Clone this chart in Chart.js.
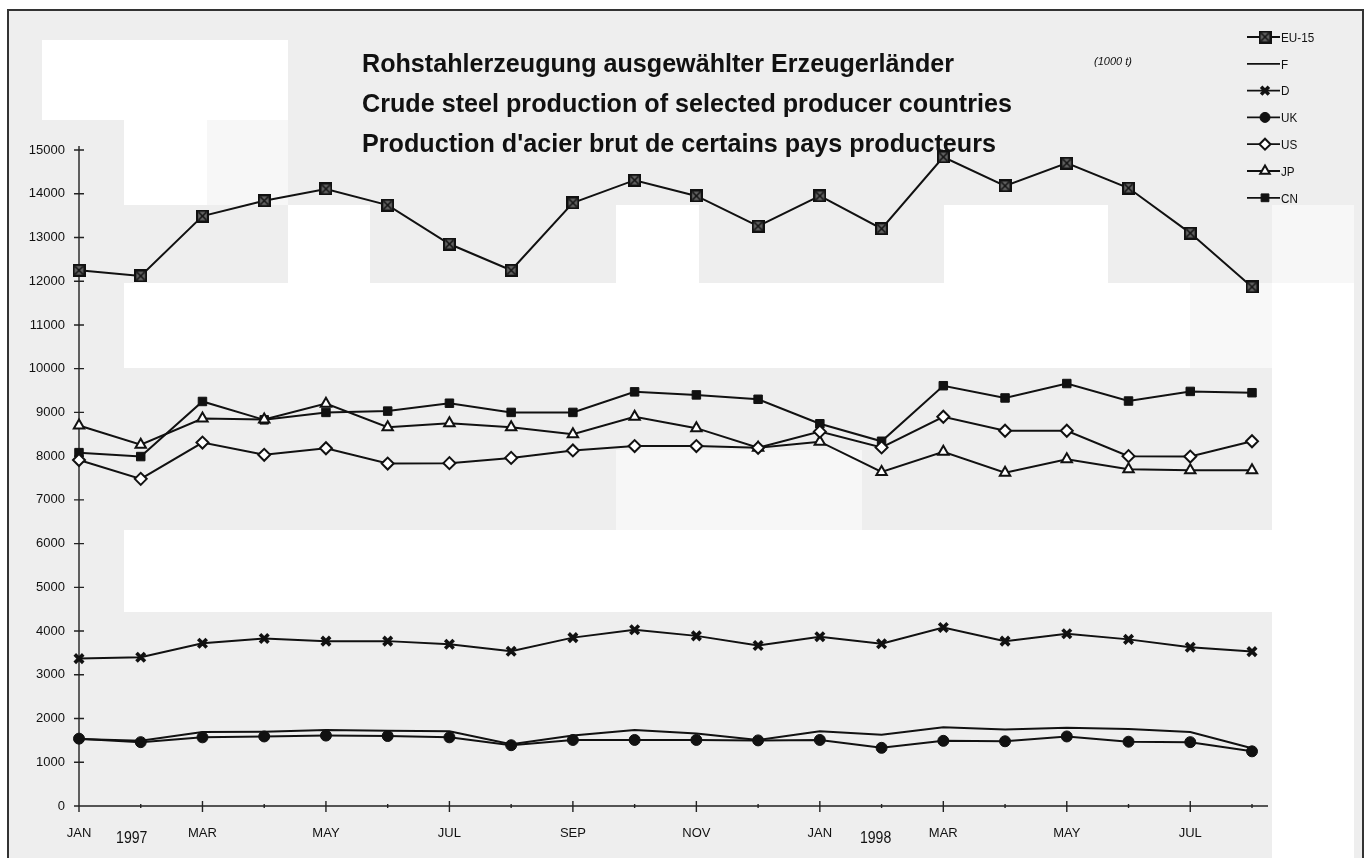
<!DOCTYPE html>
<html>
<head>
<meta charset="utf-8">
<title>Rohstahlerzeugung</title>
<script src="https://cdn.jsdelivr.net/npm/chart.js@4.4.1/dist/chart.umd.min.js"></script>
<style>
  html, body { margin: 0; padding: 0; background: #fff; }
  #wrap { width: 1367px; height: 858px; }
</style>
</head>
<body>
<div id="wrap"><canvas id="myChart" width="1367" height="858"></canvas></div>
<script>
// months Jan 1997 .. Aug 1998
const months = ['JAN','FEB','MAR','APR','MAY','JUN','JUL','AUG','SEP','OCT','NOV','DEC',
                'JAN','FEB','MAR','APR','MAY','JUN','JUL','AUG'];
const tickLabels = ['JAN','','MAR','','MAY','','JUL','','SEP','','NOV','',
                    'JAN','','MAR','','MAY','','JUL',''];
const yearLabels = ['1997', '1998'];
const yTicks = [0, 1000, 2000, 3000, 4000, 5000, 6000, 7000, 8000, 9000, 10000, 11000, 12000, 13000, 14000, 15000];

// 1000 t
const eu15 = [12250, 12120, 13490, 13840, 14110, 13740, 12850, 12250, 13790, 14310, 13950, 13260,
              13950, 13200, 14840, 14180, 14700, 14130, 13100, 11870];
const fr   = [1530, 1490, 1690, 1700, 1740, 1720, 1710, 1410, 1610, 1740, 1660, 1510,
              1710, 1630, 1800, 1750, 1790, 1760, 1690, 1320];
const de   = [3370, 3400, 3720, 3830, 3770, 3770, 3700, 3540, 3850, 4030, 3890, 3670,
              3870, 3710, 4080, 3770, 3940, 3810, 3630, 3530];
const uk   = [1540, 1460, 1570, 1590, 1610, 1600, 1570, 1390, 1510, 1510, 1510, 1500,
              1510, 1330, 1490, 1480, 1590, 1470, 1460, 1250];
const us   = [7910, 7480, 8310, 8030, 8180, 7830, 7840, 7960, 8130, 8230, 8230, 8190,
              8560, 8200, 8900, 8580, 8580, 8000, 7990, 8340];
const jp   = [8700, 8260, 8860, 8840, 9200, 8660, 8750, 8660, 8500, 8900, 8640, 8190,
              8330, 7640, 8100, 7620, 7930, 7700, 7680, 7680];
const cn   = [8080, 7990, 9250, 8830, 9000, 9030, 9210, 9000, 9000, 9470, 9400, 9300,
              8740, 8340, 9610, 9330, 9660, 9260, 9480, 9450];

const titleLines = ['Rohstahlerzeugung ausgewählter Erzeugerländer',
                    'Crude steel production of selected producer countries',
                    "Production d'acier brut de certains pays producteurs"];
const unitLabel = '(1000 t)';

const INK = '#111111';

// square with a cross inside, for EU-15
function makeEuMarker() {
    var c = document.createElement('canvas');
    c.width = 13; c.height = 13;
    var g = c.getContext('2d');
    g.fillStyle = '#666';
    g.fillRect(0, 0, 13, 13);
    g.strokeStyle = INK;
    g.lineWidth = 2.2;
    g.strokeRect(1.1, 1.1, 10.8, 10.8);
    g.lineWidth = 1.6;
    g.beginPath();
    g.moveTo(2.5, 2.5); g.lineTo(10.5, 10.5);
    g.moveTo(10.5, 2.5); g.lineTo(2.5, 10.5);
    g.stroke();
    return c;
}

function series(label, data, style, fill, radius, bw) {
    return {
        label: label,
        data: data,
        borderColor: INK,
        borderWidth: 2,
        tension: 0,
        pointStyle: style,
        pointRadius: radius,
        pointHoverRadius: radius,
        pointBackgroundColor: fill,
        pointBorderColor: INK,
        pointBorderWidth: bw,
        clip: false
    };
}

// background of the scanned page: grey with lighter patches
const bgPlugin = {
    id: 'scanBg',
    beforeDraw(chart) {
        const ctx = chart.ctx;
        ctx.save();
        ctx.fillStyle = '#ffffff';
        ctx.fillRect(0, 0, chart.width, chart.height);
        ctx.fillStyle = '#eeeeee';
        ctx.fillRect(8, 10, 1355, 848);
        const blocks = [
            [42, 40, 246, 80, '#ffffff'],
            [124, 120, 83, 85, '#ffffff'],
            [207, 120, 81, 85, '#f7f7f7'],
            [288, 205, 82, 78, '#ffffff'],
            [616, 205, 83, 78, '#ffffff'],
            [944, 205, 164, 78, '#ffffff'],
            [1272, 205, 82, 78, '#f7f7f7'],
            [124, 283, 1066, 85, '#ffffff'],
            [1190, 283, 82, 85, '#f8f8f8'],
            [1272, 283, 82, 575, '#ffffff'],
            [616, 450, 246, 80, '#f7f7f7'],
            [124, 530, 1148, 82, '#ffffff']
        ];
        blocks.forEach(function (b) {
            ctx.fillStyle = b[4];
            ctx.fillRect(b[0], b[1], b[2], b[3]);
        });
        // frame
        ctx.strokeStyle = '#333';
        ctx.lineWidth = 2;
        ctx.beginPath();
        ctx.moveTo(8, 858); ctx.lineTo(8, 10); ctx.lineTo(1363, 10); ctx.lineTo(1363, 858);
        ctx.stroke();
        ctx.restore();
    }
};

// axis lines and tick marks crossing the axes
const axesPlugin = {
    id: 'oldAxes',
    beforeDatasetsDraw(chart) {
        const ctx = chart.ctx;
        const area = chart.chartArea;
        const x = chart.scales.x, y = chart.scales.y;
        ctx.save();
        ctx.strokeStyle = '#222';
        ctx.lineWidth = 1.4;
        ctx.beginPath();
        ctx.moveTo(area.left, area.top - 4);
        ctx.lineTo(area.left, area.bottom);
        ctx.lineTo(area.right + 16, area.bottom);
        yTicks.forEach(function (v) {
            const py = y.getPixelForValue(v);
            ctx.moveTo(area.left - 5, py);
            ctx.lineTo(area.left + 5, py);
        });
        months.forEach(function (m, i) {
            const px = x.getPixelForValue(i);
            const major = tickLabels[i] !== '';
            ctx.moveTo(px, area.bottom - (major ? 5 : 2));
            ctx.lineTo(px, area.bottom + (major ? 6 : 2));
        });
        ctx.stroke();
        ctx.restore();
    },
    afterDraw(chart) {
        const ctx = chart.ctx;
        const x = chart.scales.x;
        ctx.save();
        ctx.fillStyle = INK;
        ctx.textAlign = 'center';
        ctx.textBaseline = 'middle';
        ctx.font = '16px "Liberation Sans", Arial, sans-serif';
        ctx.save();
        ctx.translate(x.getPixelForValue(1) - 9, 839);
        ctx.scale(0.88, 1);
        ctx.fillText(yearLabels[0], 0, 0);
        ctx.restore();
        ctx.save();
        ctx.translate(x.getPixelForValue(13) - 6, 839);
        ctx.scale(0.88, 1);
        ctx.fillText(yearLabels[1], 0, 0);
        ctx.restore();

        // title lines, squeezed to the narrow face of the original
        const widths = [592, 650, 634];
        ctx.textAlign = 'left';
        ctx.font = 'bold 26px "Liberation Sans", Arial, sans-serif';
        titleLines.forEach(function (t, i) {
            const w = ctx.measureText(t).width;
            ctx.save();
            ctx.translate(362, 65 + i * 40);
            ctx.scale(widths[i] / w, 1);
            ctx.fillText(t, 0, 0);
            ctx.restore();
        });
        ctx.font = 'italic 11px "Liberation Sans", Arial, sans-serif';
        ctx.fillText(unitLabel, 1094, 62);

        // legend: line + marker, label on the right
        ctx.font = '13px "Liberation Sans", Arial, sans-serif';
        chart.data.datasets.forEach(function (ds, i) {
            const ly = 37 + i * 26.8;
            ctx.strokeStyle = INK;
            ctx.lineWidth = 1.8;
            ctx.beginPath();
            ctx.moveTo(1247, ly);
            ctx.lineTo(1280, ly);
            ctx.stroke();
            if (ds.pointRadius > 0) {
                ctx.fillStyle = ds.pointBackgroundColor;
                ctx.strokeStyle = INK;
                ctx.lineWidth = ds.pointBorderWidth;
                Chart.helpers.drawPoint(ctx, {
                    pointStyle: ds.pointStyle, rotation: 0,
                    radius: ds.pointRadius - 0.5, borderWidth: ds.pointBorderWidth
                }, 1265, ly);
            }
            ctx.fillStyle = INK;
            ctx.save();
            ctx.translate(1281, ly + 1);
            ctx.scale(0.9, 1.05);
            ctx.fillText(ds.label, 0, 0);
            ctx.restore();
        });
        ctx.restore();
    }
};

var ctx = document.getElementById('myChart').getContext('2d');
var chart = new Chart(ctx, {
    type: 'line',
    data: {
        labels: months,
        datasets: [
            series('EU-15', eu15, makeEuMarker(), '#666', 6, 1),
            series('F', fr, 'circle', INK, 0, 0),
            series('D', de, 'crossRot', INK, 6, 3.6),
            series('UK', uk, 'circle', INK, 5.5, 1),
            series('US', us, 'rectRot', '#ffffff', 6, 2),
            series('JP', jp, 'triangle', '#ffffff', 6, 2),
            series('CN', cn, 'rect', INK, 6, 1)
        ]
    },
    options: {
        responsive: false,
        animation: false,
        devicePixelRatio: 1,
        layout: { padding: { left: 0, right: 115, top: 150, bottom: 0 } },
        plugins: {
            legend: { display: false },
            title: { display: false },
            tooltip: { enabled: false }
        },
        scales: {
            x: {
                type: 'category',
                offset: false,
                grid: { display: false, drawTicks: false },
                border: { display: false },
                afterFit: function (s) { s.height = 52; },
                ticks: {
                    autoSkip: false,
                    maxRotation: 0,
                    padding: 20,
                    color: INK,
                    font: { family: '"Liberation Sans Narrow", "Liberation Sans", Arial, sans-serif', size: 13 },
                    callback: function (v, i) { return tickLabels[i]; }
                }
            },
            y: {
                min: 0,
                max: 15000,
                grid: { display: false, drawTicks: false },
                border: { display: false },
                afterFit: function (s) { s.width = 79; },
                ticks: {
                    stepSize: 1000,
                    padding: 14,
                    color: INK,
                    font: { family: '"Liberation Sans", Arial, sans-serif', size: 13 },
                    callback: function (v) { return String(v); }
                }
            }
        }
    },
    plugins: [bgPlugin, axesPlugin]
});
</script>
</body>
</html>
